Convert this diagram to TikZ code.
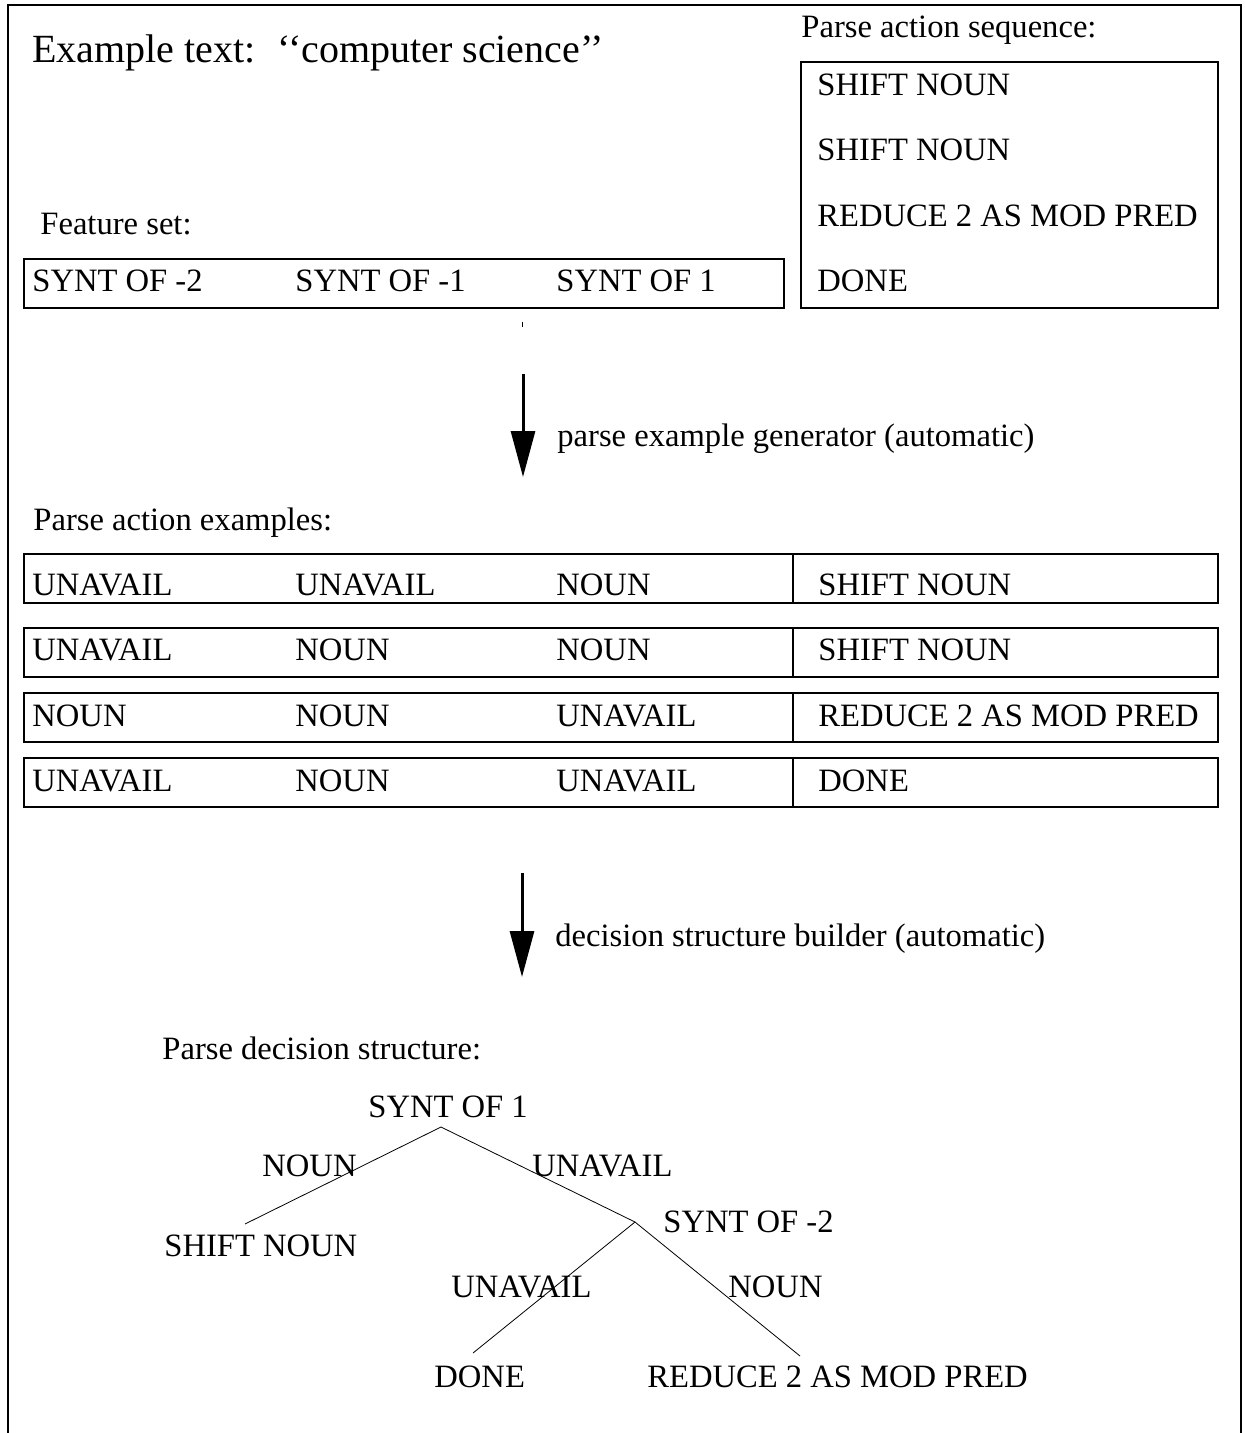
\documentclass[tikz,border=0pt]{standalone}
\usepackage{fontspec}
\setmainfont{Liberation Serif}
\usetikzlibrary{arrows.meta}

\begin{document}
\begin{tikzpicture}[x=0.5pt,y=-0.5pt]
	\tikzset{txt/.style = {anchor=base west,inner sep=0pt,font=\fontsize{16.3}{19}\selectfont}}
	\tikzstyle{frame} = [line width=0.7pt]
	\tikzstyle{branch} = [thin]
	\tikzstyle{flow} = [-{Triangle[width=12pt,length=23pt]},line width=1.5pt]
	\useasboundingbox (0,0) rectangle (1244,1433);
	\draw[frame] (8,1433) -- (8,5) -- (1241,5) -- (1241,1433);
	%input text
	\node[txt,font=\fontsize{20}{24}\selectfont] (ex) at (32,63) {Example text:\hspace{11pt}`{}`computer science'{}'};
	%feature set
	\node[txt] (fs) at (40,235) {Feature set:};
	\draw[frame] (24,259) rectangle (784,308);
	\node[txt] (f1) at (32,292) {SYNT OF -2};
	\node[txt] (f2) at (295,292) {SYNT OF -1};
	\node[txt] (f3) at (556,292) {SYNT OF 1};
	%action sequence
	\node[txt] (ps) at (801,38) {Parse action sequence:};
	\draw[frame] (801,62) rectangle (1218,308);
	\node[txt] (a1) at (817,96) {SHIFT NOUN};
	\node[txt] (a2) at (817,161) {SHIFT NOUN};
	\node[txt] (a3) at (817,227) {REDUCE 2 AS MOD PRED};
	\node[txt] (a4) at (817,292) {DONE};
	\draw[thin] (522,322) -- (522,327);
	%generator
	\coordinate (g0) at (523,374);
	\coordinate (g1) at (523,477);
	\draw[flow] (g0) -- (g1);
	\node[txt] (gen) at (557,446) {parse example generator (automatic)};
	%examples
	\node[txt] (pe) at (33,530) {Parse action examples:};
	\draw[frame] (24,554) rectangle (1218,603);
	\draw[frame] (793,554) -- (793,603);
	\node[txt] (x11) at (32,595) {UNAVAIL};
	\node[txt] (x12) at (295,595) {UNAVAIL};
	\node[txt] (x13) at (556,595) {NOUN};
	\node[txt] (x14) at (818,595) {SHIFT NOUN};
	\draw[frame] (24,628) rectangle (1218,677);
	\draw[frame] (793,628) -- (793,677);
	\node[txt] (x21) at (32,660) {UNAVAIL};
	\node[txt] (x22) at (295,660) {NOUN};
	\node[txt] (x23) at (556,660) {NOUN};
	\node[txt] (x24) at (818,660) {SHIFT NOUN};
	\draw[frame] (24,693) rectangle (1218,742);
	\draw[frame] (793,693) -- (793,742);
	\node[txt] (x31) at (32,726) {NOUN};
	\node[txt] (x32) at (295,726) {NOUN};
	\node[txt] (x33) at (556,726) {UNAVAIL};
	\node[txt] (x34) at (818,726) {REDUCE 2 AS MOD PRED};
	\draw[frame] (24,758) rectangle (1218,807);
	\draw[frame] (793,758) -- (793,807);
	\node[txt] (x41) at (32,791) {UNAVAIL};
	\node[txt] (x42) at (295,791) {NOUN};
	\node[txt] (x43) at (556,791) {UNAVAIL};
	\node[txt] (x44) at (818,791) {DONE};
	%builder
	\coordinate (b0) at (522,873);
	\coordinate (b1) at (522,977);
	\draw[flow] (b0) -- (b1);
	\node[txt] (bld) at (555,946) {decision structure builder (automatic)};
	%decision tree
	\node[txt] (pd) at (162,1059) {Parse decision structure:};
	\node[txt] (t1) at (368,1117) {SYNT OF 1};
	\node[txt] (t2) at (663,1232) {SYNT OF -2};
	\node[txt] (l1) at (164,1256) {SHIFT NOUN};
	\node[txt] (l2) at (434,1387) {DONE};
	\node[txt] (l3) at (647,1387) {REDUCE 2 AS MOD PRED};
	\node[txt] (e1) at (262,1176) {NOUN};
	\node[txt] (e2) at (532,1176) {UNAVAIL};
	\node[txt] (e3) at (451,1297) {UNAVAIL};
	\node[txt] (e4) at (728,1297) {NOUN};
	\coordinate (r1) at (441,1127);
	\coordinate (r2) at (635,1222);
	\coordinate (k1) at (245,1224);
	\coordinate (k2) at (473,1353);
	\coordinate (k3) at (800,1356);
	\draw[branch] (r1) -- (k1);
	\draw[branch] (r1) -- (r2);
	\draw[branch] (r2) -- (k2);
	\draw[branch] (r2) -- (k3);
\end{tikzpicture}
\end{document}
